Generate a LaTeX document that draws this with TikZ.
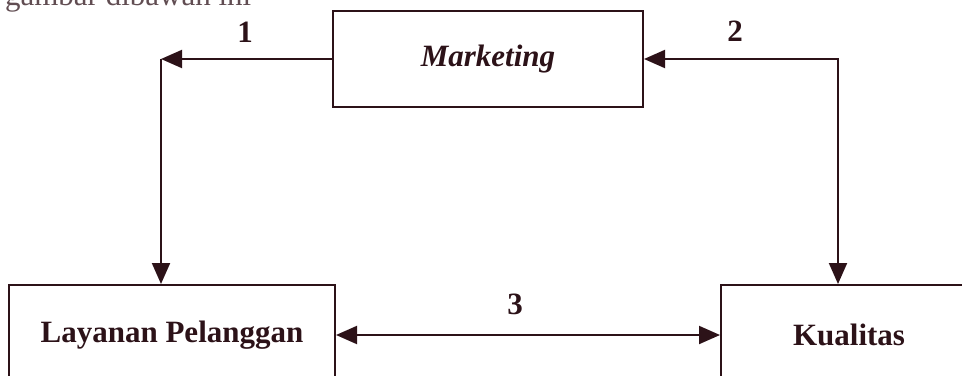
\documentclass[tikz,border=0pt]{standalone}
\usepackage{fontspec}
\setmainfont{Liberation Serif}
\usetikzlibrary{arrows.meta}
\definecolor{ink}{RGB}{44,18,24}
\tikzset{
  kotak/.style={draw=ink,line width=1pt,text=ink,font=\fontsize{15.5}{18}\selectfont\bfseries,inner sep=0pt},
  ujung/.tip={Triangle[length=10.5pt,width=9pt]},
  panah/.style={draw=ink,line width=1pt,-ujung},
  nomor/.style={text=ink,font=\fontsize{15.5}{18}\selectfont\bfseries}
}
\begin{document}
\begin{tikzpicture}[x=0.5pt,y=-0.5pt]
	\useasboundingbox (0,0) rectangle (962,375);
	
	\node[anchor=base west,text=ink!75,font=\fontsize{15.5}{18}\selectfont] (teks) at (-2,5) {gambar dibawah ini};
	
	\node[kotak,minimum width=155pt,minimum height=48pt] (mkt) at (488,59) {\itshape Marketing};
	\node[kotak,minimum width=163pt,minimum height=50pt] (lay) at (172,335) {Layanan Pelanggan};
	\node[kotak,minimum width=128pt,minimum height=50pt] (kual) at (849,335) {Kualitas};
	
	\coordinate (c1) at (161,59);
	\coordinate (c2) at (838,59);
	
	\draw[panah] (mkt.west) -- (c1);
	\draw[panah] (c1) -- (c1 |- lay.north);
	\draw[panah,ujung-ujung] (mkt.east) -- (c2) -- (c2 |- kual.north);
	\draw[panah,ujung-ujung] (lay.east) -- (kual.west);
	
	\node[nomor] (n1) at (245,32) {1};
	\node[nomor] (n2) at (735,31) {2};
	\node[nomor] (n3) at (515,304) {3};
\end{tikzpicture}
\end{document}
